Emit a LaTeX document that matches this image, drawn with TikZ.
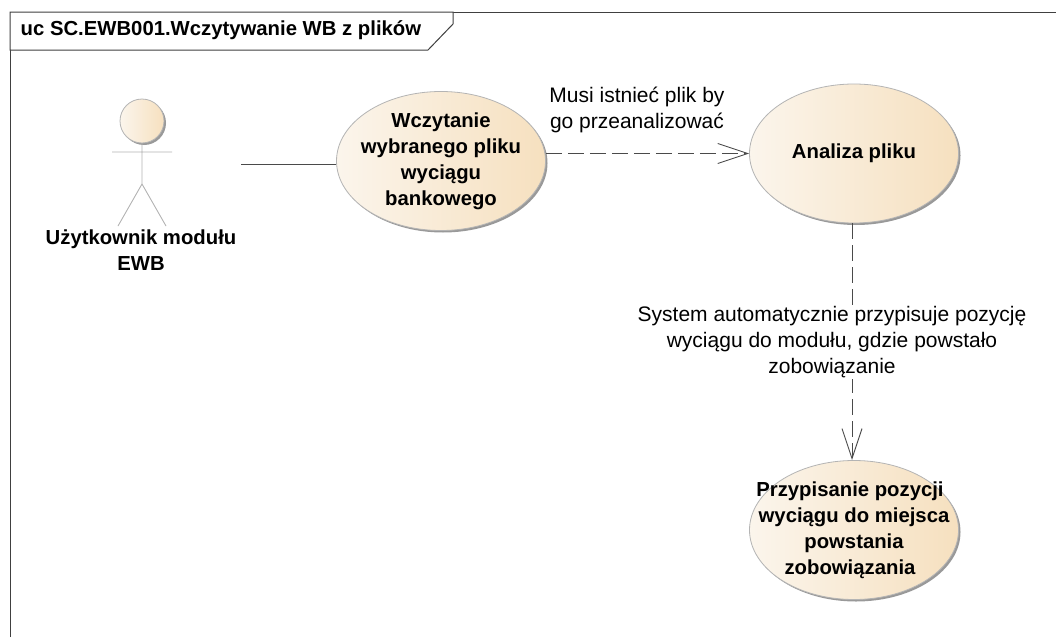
\documentclass[tikz,border=0pt]{standalone}
\usepackage{fontspec}
\setmainfont{Liberation Sans}
\usetikzlibrary{shapes.geometric,arrows.meta,shadows}
\definecolor{ucL}{HTML}{FBF5EC}
\definecolor{ucR}{HTML}{F6E0BF}
\definecolor{framec}{HTML}{404040}
\definecolor{edgec}{HTML}{B4B4B4}
\definecolor{wirec}{HTML}{4A4A4A}
\newcommand{\boldtxt}{\fontsize{20.3}{26}\selectfont\bfseries}
\newcommand{\plaintxt}{\fontsize{21}{26}\selectfont}
\tikzset{
  x=1pt,y=-1pt,
  ucase/.style={ellipse,draw=edgec,line width=0.8pt,left color=ucL,right color=ucR,
    minimum width=209pt,minimum height=139pt,inner sep=-40pt,align=center,
    font=\boldtxt,text=black,
    drop shadow={shadow xshift=2pt,shadow yshift=-2pt,fill=black!40,opacity=1}},
  actorpart/.style={draw=edgec,line width=0.9pt},
  wire/.style={draw=wirec,line width=0.9pt},
  dep/.style={wire,dash pattern=on 16pt off 6pt,-{Straight Barb[length=30pt,width=20pt,sep=0pt]}},
  deplabel/.style={fill=white,inner sep=1pt,align=center,font=\plaintxt,text=black},
}
\begin{document}
\begin{tikzpicture}
\useasboundingbox (0,0) rectangle (1056,637);
\fill[white] (0,0) rectangle (1056,637);
% frame
\coordinate (fbl) at (10,637);
\coordinate (ftl) at (10,12);
\coordinate (ftr) at (1056,12);
\draw[draw=framec,line width=1pt] (fbl) -- (ftl) -- (ftr);
\draw[draw=framec,line width=1pt,fill=white] (ftl) -- (453,12) -- (453,24) -- (428,50) -- (10,50) -- cycle;
\node[anchor=west,inner sep=0pt,font=\boldtxt] (title) at (20.5,30.5) {uc SC.EWB001.Wczytywanie WB z plików};
% actor
\node[circle,minimum size=44pt,inner sep=0pt,draw=edgec,line width=0.8pt,left color=ucL,right color=ucR,
  drop shadow={shadow xshift=2pt,shadow yshift=-2pt,fill=black!40,opacity=1}] (head) at (142,121) {};
\coordinate (armL) at (112,152);
\coordinate (armR) at (172,152);
\coordinate (hip) at (142,184);
\coordinate (legL) at (118,226);
\coordinate (legR) at (166,226);
\draw[actorpart] (head.south) -- (hip) (armL) -- (armR) (legL) -- (hip) -- (legR);
\node[align=center,inner sep=0pt,font=\boldtxt] (actor) at (141,250) {Użytkownik modułu\\EWB};
\coordinate (actorlink) at (241,164);
% use cases
\node[ucase] (uc1) at (441,161) {Wczytanie\\wybranego pliku\\wyciągu\\bankowego};
\node[ucase] (uc2) at (854,153.5) {\raisebox{3pt}{Analiza pliku}};
\node[ucase] (uc3) at (854,530) {Przypisanie pozycji\hspace*{8pt}\\wyciągu do miejsca\hspace*{8pt}\\powstania\hspace*{8pt}\\zobowiązania\hspace*{8pt}};
% connectors
\draw[wire] (actorlink) -- (uc1.west |- actorlink);
\draw[dep] (uc2.west -| uc1.east) -- (uc2.west);
\draw[dep] (uc2.south -| 852,0) -- (852,460);
\node[deplabel] (l1) at (637,110) {Musi istnieć plik by\\go przeanalizować};
\node[deplabel] (l2) at (832,342) {System automatycznie przypisuje pozycję\\wyciągu do modułu, gdzie powstało\\zobowiązanie};
\end{tikzpicture}
\end{document}
